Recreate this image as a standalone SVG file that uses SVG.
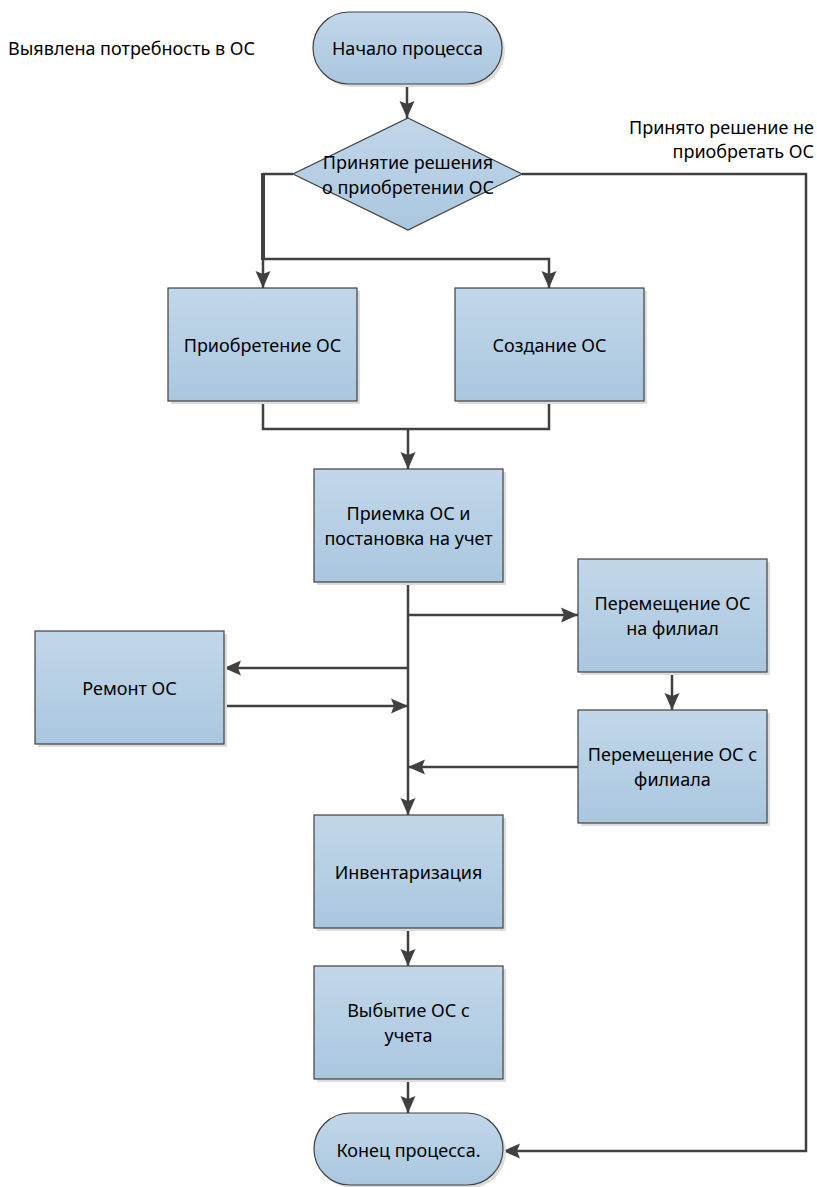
<svg xmlns="http://www.w3.org/2000/svg" width="817" height="1187" viewBox="0 0 817 1187">
<style>
.shape{fill:url(#g);stroke:#404040;stroke-width:1.2}
.shadow{fill:#dcdcdc}
.t{font-family:"Noto Sans","Open Sans","Liberation Sans",sans-serif;font-size:18px;fill:#000;text-anchor:middle;dominant-baseline:central}
.c{fill:none;stroke:#404040;stroke-width:2.5}
</style>
<defs>
<linearGradient id="g" x1="0" y1="0" x2="0" y2="1">
<stop offset="0" stop-color="#c2d7e9"/>
<stop offset="1" stop-color="#aac7df"/>
</linearGradient>
<marker id="a" markerUnits="userSpaceOnUse" markerWidth="18" markerHeight="18" viewBox="0 0 18 18" refX="17" refY="9" orient="auto">
<path d="M0,1.5 L17,9 L0,16.5 L3,9 Z" fill="#404040"/>
</marker>
</defs>
<rect width="817" height="1187" fill="#fff"/>

<text class="t" x="8" y="48" style="text-anchor:start">Выявлена потребность в ОС</text>
<text class="t" x="814" y="127" style="text-anchor:end">Принято решение не</text>
<text class="t" x="814" y="151" style="text-anchor:end">приобретать ОС</text>

<g id="connectors">
<path class="c" d="M407,84 V118" marker-end="url(#a)"/>
<path class="c" d="M293,174 H263"/>
<path class="c" d="M263,173 V260" style="stroke-width:4"/>
<path class="c" d="M263,259 V288" marker-end="url(#a)"/>
<path class="c" d="M263,259 H549 V288" marker-end="url(#a)"/>
<path class="c" d="M263,401 V429 H549 V401"/>
<path class="c" d="M408,429 V469" marker-end="url(#a)"/>
<path class="c" d="M408,582 V815" marker-end="url(#a)"/>
<path class="c" d="M408,615 H578" marker-end="url(#a)"/>
<path class="c" d="M408,668 H224" marker-end="url(#a)"/>
<path class="c" d="M224,706 H408" marker-end="url(#a)"/>
<path class="c" d="M672,672 V710" marker-end="url(#a)"/>
<path class="c" d="M578,767 H408" marker-end="url(#a)"/>
<path class="c" d="M408,928 V966" marker-end="url(#a)"/>
<path class="c" d="M408,1079 V1113" marker-end="url(#a)"/>
<path class="c" d="M522,174 H806 V1151 H503" marker-end="url(#a)"/>
</g>

<g id="start">
<rect class="shadow" x="316" y="15" width="189" height="72" rx="36"/>
<rect class="shape" x="313" y="12" width="189" height="72" rx="36"/>
<text class="t" x="407.5" y="48">Начало процесса</text>
</g>

<g id="decision">
<polygon class="shape" points="408,118 522,174 408,230 293,174"/>
<text class="t" x="408" y="162">Принятие решения</text>
<text class="t" x="408" y="187">о приобретении ОС</text>
</g>

<g id="purchase">
<rect class="shadow" x="171" y="291" width="189" height="113"/>
<rect class="shape" x="168" y="288" width="189" height="113"/>
<text class="t" x="262.5" y="344.5">Приобретение ОС</text>
</g>

<g id="create">
<rect class="shadow" x="458" y="291" width="189" height="113"/>
<rect class="shape" x="455" y="288" width="189" height="113"/>
<text class="t" x="549.5" y="344.5">Создание ОС</text>
</g>

<g id="accept">
<rect class="shadow" x="317" y="472" width="189" height="113"/>
<rect class="shape" x="314" y="469" width="189" height="113"/>
<text class="t" x="408.5" y="513">Приемка ОС и</text>
<text class="t" x="408.5" y="538">постановка на учет</text>
</g>

<g id="move-to">
<rect class="shadow" x="581" y="562" width="189" height="113"/>
<rect class="shape" x="578" y="559" width="189" height="113"/>
<text class="t" x="672.5" y="603">Перемещение ОС</text>
<text class="t" x="672.5" y="628">на филиал</text>
</g>

<g id="repair">
<rect class="shadow" x="38" y="634" width="189" height="113"/>
<rect class="shape" x="35" y="631" width="189" height="113"/>
<text class="t" x="129.5" y="687.5">Ремонт ОС</text>
</g>

<g id="move-from">
<rect class="shadow" x="581" y="713" width="189" height="113"/>
<rect class="shape" x="578" y="710" width="189" height="113"/>
<text class="t" x="672.5" y="754">Перемещение ОС с</text>
<text class="t" x="672.5" y="779">филиала</text>
</g>

<g id="inventory">
<rect class="shadow" x="317" y="818" width="189" height="113"/>
<rect class="shape" x="314" y="815" width="189" height="113"/>
<text class="t" x="408.5" y="871.5">Инвентаризация</text>
</g>

<g id="disposal">
<rect class="shadow" x="317" y="969" width="189" height="113"/>
<rect class="shape" x="314" y="966" width="189" height="113"/>
<text class="t" x="408.5" y="1010">Выбытие ОС с</text>
<text class="t" x="408.5" y="1035">учета</text>
</g>

<g id="end">
<rect class="shadow" x="317" y="1116" width="189" height="72" rx="36"/>
<rect class="shape" x="314" y="1113" width="189" height="72" rx="36"/>
<text class="t" x="408.5" y="1150">Конец процесса.</text>
</g>
</svg>
